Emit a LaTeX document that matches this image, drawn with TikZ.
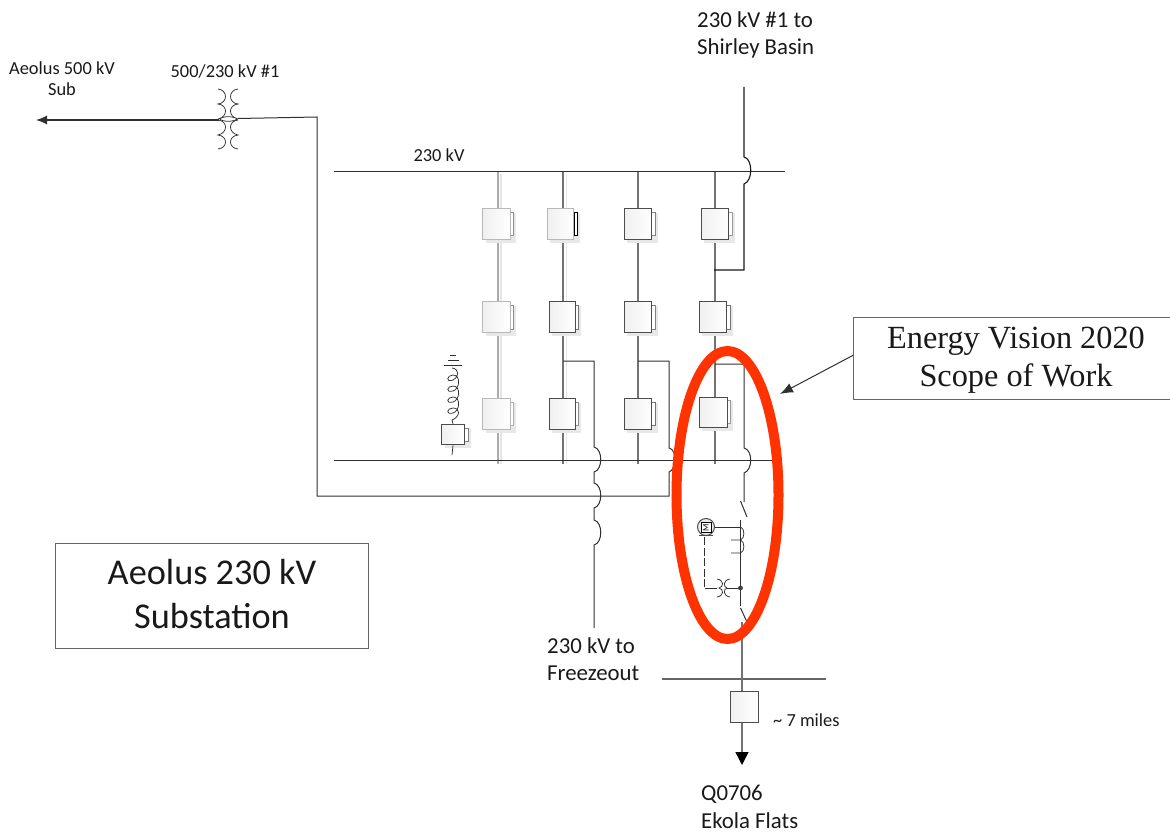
\documentclass[tikz,border=0pt]{standalone}
\usepackage{fontspec}
\setmainfont{Carlito}
\newfontfamily\timesf{Liberation Serif}
\usetikzlibrary{arrows.meta,backgrounds,calc}
\definecolor{redoval}{HTML}{FF3300}
\definecolor{ink}{HTML}{303030}
\tikzset{
  wire/.style={draw=ink,line width=1pt},
  darkwire/.style={draw=black!90,line width=1.1pt},
  colwire/.style={draw=black!55,line width=1.4pt},
  paleline/.style={draw=black!33,line width=1.2pt},
  halo/.style={draw=black!10,line width=1.2pt},
  thin coil/.style={draw=ink,line width=0.75pt},
  caption/.style={align=left,anchor=west,text=black!90,inner sep=0pt},
  small caption/.style={font=\fontsize{18.4}{21}\selectfont,align=center,text=black!90,inner sep=0pt},
  titlebox/.style={draw=black!60,line width=0.7pt,fill=white,inner sep=0pt},
  breaker/.style={draw=black!70,line width=1pt,left color=black!6,right color=white,minimum width=#1,inner sep=0pt},
  fadedbreaker/.style={draw=black!28,line width=1pt,left color=black!6,right color=white,minimum width=#1,inner sep=0pt},
}
% \brk{name}{cx}{cy}{w}{h}{style}{tab colour}
\newcommand{\brk}[7]{%
  \pgfmathsetmacro{\xl}{#2-#4/2}\pgfmathsetmacro{\xr}{#2+#4/2}
  \pgfmathsetmacro{\yt}{#3-#5/2}\pgfmathsetmacro{\yb}{#3+#5/2}
  \fill[black!9] (\xl+3,\yt+4) rectangle (\xr+6,\yb+3.5);
  \filldraw[draw=#7,fill=white,line width=0.8pt] (\xr,\yt+3.5) rectangle (\xr+3.5,\yb-3.5);
  \node[#6=#4 pt,minimum height=#5 pt] (#1) at (#2,#3) {};
}
\begin{document}
\begin{tikzpicture}[x=1pt,y=-1pt]
\useasboundingbox (0,0) rectangle (1170,832);

% named junctions
\coordinate (t1) at (498,171); \coordinate (b1) at (498,464);
\coordinate (t2) at (563,171); \coordinate (b2) at (563,464);
\coordinate (t3) at (638,171); \coordinate (b3) at (638,464);
\coordinate (t4) at (715,171); \coordinate (b4) at (715,464);
\coordinate (busAw) at (334,171); \coordinate (busAe) at (785,171);
\coordinate (busBw) at (334,460); \coordinate (busBe) at (780,460);
\coordinate (busCw) at (662,679); \coordinate (busCe) at (826,679);

% pale halos of the column lines
\draw[halo] (501,174) -- (501,464);
\draw[halo] (566.5,174) -- (566.5,464);

% column lines
\draw[paleline] (t1) -- (b1);
\draw[colwire] (t2) -- (b2);
\draw[colwire] (t3) -- (b3);
\draw[colwire] (t4) -- (b4);

% breakers
\brk{a1}{496.5}{224}{27.5}{30.5}{fadedbreaker}{black!45}
\brk{a2}{496.5}{317}{27.5}{31}{fadedbreaker}{black!45}
\brk{a3}{496.5}{414}{27.5}{30.5}{fadedbreaker}{black!30}
\brk{b1n}{560.7}{224}{26.5}{30.5}{fadedbreaker}{black}
\brk{b2n}{562}{317}{26}{31}{breaker}{black!55}
\brk{b3n}{562}{414}{26}{30.5}{breaker}{black!45}
\brk{c1}{638}{224}{27.5}{30.5}{breaker}{black!50}
\brk{c2}{638}{317}{27.5}{31}{breaker}{black!50}
\brk{c3}{638}{414}{27.5}{30.5}{breaker}{black!55}
\brk{d1}{715}{224}{27.5}{30.5}{breaker}{black!40}
\brk{d2}{713}{317}{27.5}{31}{breaker}{black!55}
\brk{d3}{713}{412}{28}{30}{breaker}{black!40}
\brk{r1}{453}{434.7}{23}{20.5}{breaker}{black!50}
\node[breaker=28pt,minimum height=31pt] (e1) at (744,706.5) {};

% buses
\draw[wire] (busAw) -- (busAe);
\draw[wire] (busBw) -- (busBe);
\draw[draw=black!60,line width=1.1pt] (busCw) -- (busCe);

% shunt reactor
\coordinate (gnd) at (452,368);
\draw[thin coil] (r1.south) -- (452,455);
\draw[thin coil] (gnd) .. controls (459,369) and (460,376) .. (453,380)
  .. controls (445,383) and (447,375) .. (453,375)
  .. controls (461,375) and (460,389) .. (453,391)
  .. controls (445,393) and (447,386) .. (453,386)
  .. controls (461,386) and (460,400) .. (453,402)
  .. controls (445,404) and (447,397) .. (453,397)
  .. controls (461,397) and (460,411) .. (453,413)
  .. controls (445,415) and (447,408) .. (453,408)
  .. controls (461,408) and (460,417) .. (452,420) -- (r1.north);
\draw[wire] (444,365.5) -- (462,365.5);
\draw[wire] (447.5,360.5) -- (459,360.5);
\draw[wire] (450,355.5) -- (456,355.5);

% Aeolus 500 kV line and transformer
\coordinate (tx) at (228,119);
\coordinate (aeolus) at (36,120);
\coordinate (corner1) at (317,117);
\coordinate (corner2) at (317,496);
\coordinate (corner3) at (669,496);
\coordinate (corner4) at (669,361);
\coordinate (tap3) at (638,361);
\draw[wire,line width=1.1pt,-{Latex[length=11pt,width=9pt]}] (219,120) -- (aeolus);
\draw[wire] (238,118.5) -- (corner1) -- (corner2) -- (corner3) -- (669,472)
  .. controls (676,470) and (678,450) .. (669,448) -- (corner4) -- (tap3);
\draw[thin coil] (218,89) .. controls (228,90) and (228,103) .. (218,104)
  .. controls (228,105) and (228,117) .. (218,119)
  (218,120) .. controls (228,121) and (228,133) .. (218,135)
  .. controls (228,136) and (228,148) .. (218,149);
\draw[thin coil] (238,89) .. controls (228,90) and (228,103) .. (238,104)
  .. controls (228,105) and (228,117) .. (238,119)
  (238,120) .. controls (228,121) and (228,133) .. (238,135)
  .. controls (228,136) and (228,148) .. (238,149);
\draw[thin coil,fill=white] (220,119) .. controls (222,116) and (234,116) .. (237,119)
  .. controls (234,122) and (222,122) .. (220,119) -- cycle;

% 230 kV to Freezeout line, with three jumps
\coordinate (tap2) at (563,361);
\coordinate (frz) at (594,628);
\draw[wire] (tap2) -- (594,361) -- (594,447)
  .. controls (603,449) and (603,470) .. (594,472) -- (594,483)
  .. controls (603,485) and (603,506) .. (594,508) -- (594,520)
  .. controls (603,522) and (603,543) .. (594,545) -- (frz);

% Shirley Basin line
\coordinate (shirley) at (744,87);
\coordinate (tap4a) at (714,270);
\draw[darkwire] (shirley) -- (744,157)
  .. controls (753,159) and (753,181) .. (744,184) -- (744,270) -- (tap4a);

% Ekola Flats line
\coordinate (tap4b) at (715,364);
\draw[wire] (tap4b) -- (744,364) -- (744,448)
  .. controls (753,450) and (753,470) .. (744,473) -- (744,502);
\draw[wire] (740.5,501) -- (747,517);
\draw[wire] (740.5,520) -- (740.5,606);
\draw[wire] (740.5,608) -- (747,622);
\coordinate (ekola) at (742,765);
\draw[colwire] (742,622) -- (e1.north -| 742,0);
\draw[colwire,-{Triangle[length=13pt,width=13pt,black]}] (e1.south -| 742,0) -- (ekola);

% motor operator and CT
\node[circle,draw=black!70,fill=black!8,line width=1pt,minimum size=17pt,inner sep=0pt] (motor) at (706,527) {};
\node[draw=black,fill=white,line width=0.7pt,minimum size=10pt,inner sep=0pt,rotate=90,font=\fontsize{8.5}{8.5}\selectfont] (mbox) at (706,527.5) {M};
\draw[draw=black!70,line width=1.3pt] (699,535.5) -- (713,535.5);
\draw[wire] (motor.east) -- (740.5,527);
\draw[thin coil] (740.5,527) .. controls (745,528) and (745,539) .. (740.5,540) -- (731,540)
  (740.5,540) .. controls (745,541) and (745,552) .. (740.5,553) -- (731,553);
\draw[wire,dashed,dash pattern=on 8pt off 2.5pt] (704.5,537) -- (704.5,588);
\draw[wire] (704.5,588) -- (717,588);
\coordinate (ct) at (740.5,588);
\draw[thin coil] (717,579) .. controls (724,580) and (724,587) .. (719,588) .. controls (724,589) and (724,596) .. (717,597)
  (730,579) .. controls (723,580) and (723,587) .. (727,588) .. controls (723,589) and (723,596) .. (730,597);
\draw[wire] (727,588) -- (ct);
\fill[black!75] (ct) circle (2.4pt);

% scope oval and callout
\draw[redoval,line width=10pt] (727.5,495) ellipse [x radius=51,y radius=144];

\node[titlebox,minimum width=330pt,minimum height=82pt,anchor=north west] (scope) at (853,317) {};
\node[font=\fontsize{32.3}{37.5}\selectfont\timesf,align=center,inner sep=0pt,text=black!90] (scopetext) at (1016,360) {Energy Vision 2020\\Scope of Work};
\coordinate (ovalpt) at (780,394);
\draw[wire,-{Latex[length=13pt,width=10pt]}] (scope.west) ++(0,-3) -- (ovalpt);

\node[titlebox,minimum width=313pt,minimum height=105pt,anchor=north west] (sub) at (55,543) {};
\node[font=\fontsize{36.3}{44}\selectfont,align=center,inner sep=0pt,text=black!90] (subtext) at (212,594) {Aeolus 230 kV\\Substation};

% labels
\node[small caption] (l1) at (62,78.5) {Aeolus 500 kV\\Sub};
\node[small caption] (l2) at (225,72) {500/230 kV \#1};
\node[small caption] (l3) at (439,155) {230 kV};
\node[caption,font=\fontsize{22.8}{27}\selectfont] (l4) at (697,35) {230 kV \#1 to\\Shirley Basin};
\node[caption,font=\fontsize{22.8}{27}\selectfont] (l5) at (547,659) {230 kV to\\Freezeout};
\node[small caption,anchor=west] (l6) at (773,720) {\textasciitilde{} 7 miles};
\node[caption,font=\fontsize{22.8}{28}\selectfont] (l7) at (701,807) {Q0706\\Ekola Flats};
\end{tikzpicture}
\end{document}
